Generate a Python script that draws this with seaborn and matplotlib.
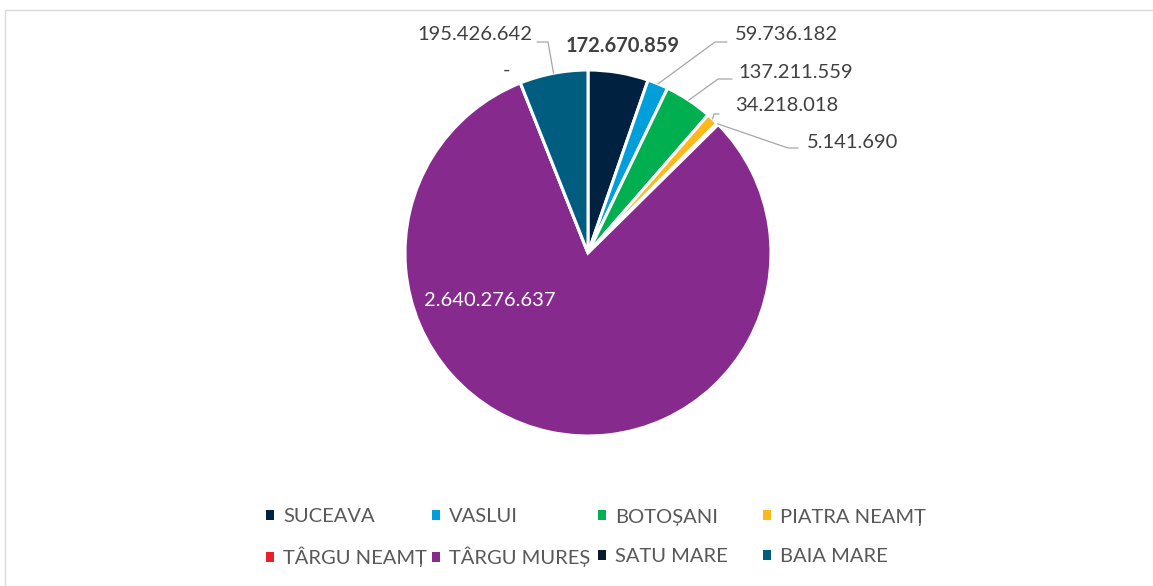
import matplotlib
matplotlib.use("Agg")
import matplotlib.pyplot as plt
import seaborn as sns
import numpy as np
from matplotlib.patches import Patch, Rectangle

# ---------------- data ----------------
categories = ["SUCEAVA", "VASLUI", "BOTOȘANI", "PIATRA NEAMȚ",
              "TÂRGU NEAMȚ", "TÂRGU MUREȘ", "SATU MARE", "BAIA MARE"]
values = [172670859, 59736182, 137211559, 34218018,
          5141690, 2640276637, 0, 195426642]
colors = ["#00213F", "#009FDA", "#00B050", "#FFB81C",
          "#E8202A", "#862A8D", "#0C1A2E", "#005D80"]


def fmt(v):
    return "-" if v == 0 else f"{v:,}".replace(",", ".")


# ---------------- style ----------------
sns.set_theme(style="white")
plt.rcParams["font.family"] = ["Lato", "DejaVu Sans"]
palette = sns.color_palette(colors)

W, H = 1153, 586
fig = plt.figure(figsize=(W / 100, H / 100), dpi=100)
fig.patch.set_facecolor("white")

# chart frame
fig.patches.append(Rectangle((5 / W, -0.1), 1.2, (H - 10) / H + 0.1,
                             transform=fig.transFigure, fill=False,
                             edgecolor="#D9D9D9", lw=1.0))

cx, cy, R = 588, 253, 183
ax = fig.add_axes([(cx - R) / W, (H - cy - R) / H, 2 * R / W, 2 * R / H])
wedges, _ = ax.pie(values, colors=palette, startangle=90, counterclock=False,
                   radius=1, wedgeprops=dict(edgecolor="white", linewidth=2.2))
ax.set_xlim(-1, 1)
ax.set_ylim(-1, 1)
ax.axis("off")


def P(x, y):
    return ((x - cx) / R, (cy - y) / R)


text_color = "#404040"
fs = 14.5

# label layout: (text anchor px, ha, weight, color, leader elbow pts px)
layout = [
    ((623, 46), "center", "bold", text_color, None),
    ((735, 34), "left", "normal", text_color, [(715, 42), (727, 42)]),
    ((738, 72), "left", "normal", text_color, [(718, 79), (732, 79)]),
    ((735, 105), "left", "normal", text_color, [(714, 114), (719, 114)]),
    ((807, 142), "left", "normal", text_color, [(788, 148), (798, 148)]),
    ((490, 300), "center", "normal", "white", None),
    ((507, 70), "center", "normal", text_color, None),
    ((532, 34), "right", "normal", text_color, [(548, 42), (537, 42)]),
]

for i, (w, v) in enumerate(zip(wedges, values)):
    (tx, ty), ha, weight, col, elbow = layout[i]
    ax.text(*P(tx, ty), fmt(v), ha=ha, va="center", fontsize=fs,
            fontweight=weight, color=col, clip_on=False)
    if elbow:
        mid = np.deg2rad((w.theta1 + w.theta2) / 2)
        pts = [(np.cos(mid), np.sin(mid))] + [P(*p) for p in elbow]
        xs, ys = zip(*pts)
        ax.plot(xs, ys, color="#A6A6A6", lw=0.9, clip_on=False)

# legend: one entry each, placed in the reference's 4-column grid
leg_pos = [(270, 517), (436, 517), (602, 517), (767, 517),
           (270, 557), (436, 557), (602, 557), (767, 557)]
for name, c, (lx, ly) in zip(categories, palette, leg_pos):
    fig.legend(handles=[Patch(facecolor=c, edgecolor="none")], labels=[name],
               loc="center left", bbox_to_anchor=((lx - 4) / W, 1 - ly / H),
               frameon=False, fontsize=14.5, handlelength=0.4, handleheight=0.4,
               handletextpad=0.45, borderpad=0, borderaxespad=0,
               labelcolor="#595959")

fig.savefig("out.png", dpi=100, facecolor="white")
